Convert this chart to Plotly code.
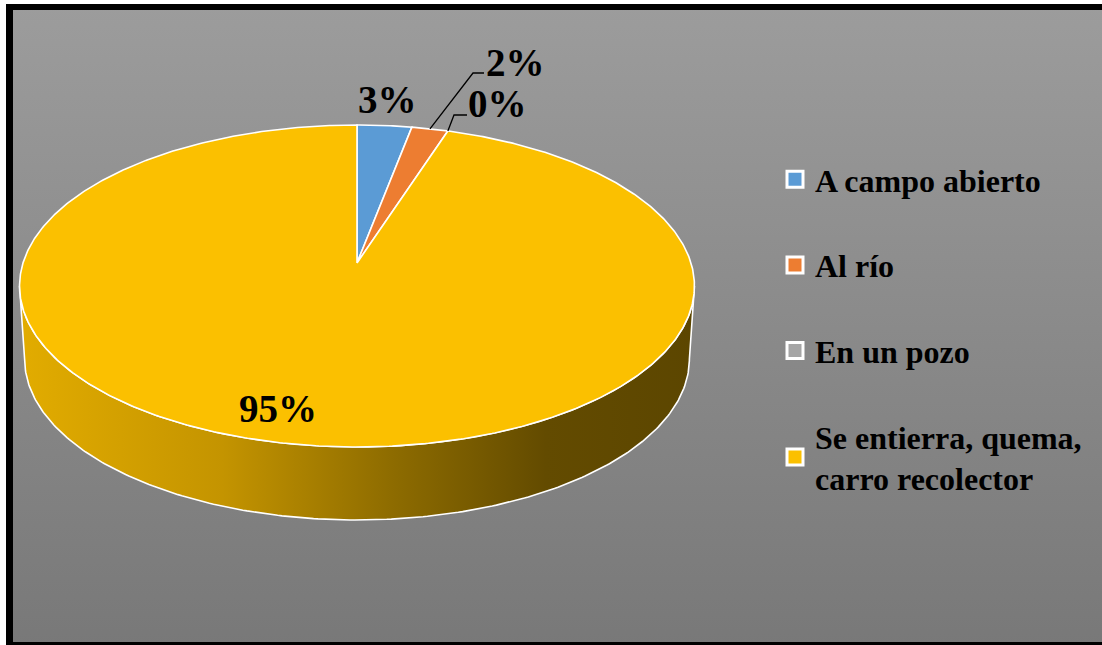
import numpy as np
import plotly.graph_objects as go

# ---- data -------------------------------------------------------------
categorias = ["A campo abierto", "Al río", "En un pozo",
              "Se entierra, quema,<br>carro recolector"]
porcentajes = [3, 2, 0, 95]
colores = ["#5B9BD5", "#ED7D31", "#A5A5A5", "#FBC000"]

# ---- canvas / pie geometry (pixel space) ------------------------------
W, H = 1102, 645
CX, CY = 357, 263          # apex of the pie on the top face
R, RY = 334, 157.7         # horizontal / vertical radius
K = 0.1428                 # perspective foreshortening of the far side
DEPTH = 73                 # thickness of the pie
BOT_SCALE = 0.985
FONT = "Liberation Serif"


def top_pt(th, frac=1.0):
    u, v = np.sin(th), np.cos(th)
    s = 1.0 / (1.0 + K * v)
    return CX + frac * R * u * s, CY - frac * RY * v * s


def bot_pt(th):
    x, y = top_pt(th)
    return CX + (x - CX) * BOT_SCALE, y + DEPTH


fig = go.Figure()

# background with vertical grey gradient (lighter at the top)
fig.add_trace(go.Scatter(
    x=[10, W + 5, W + 5, 10, 10], y=[7, 7, H + 5, H + 5, 7],
    mode="lines", fill="toself", line=dict(width=0),
    fillgradient=dict(type="vertical",
                      colorscale=[[0, "#787878"], [1, "#9c9c9c"]]),
    hoverinfo="skip", showlegend=False))

# visible side wall (front half of the cylinder)
th_r = np.arccos(-K)
th_l = 2 * np.pi - th_r
arc = np.linspace(th_r, th_l, 240)
xt, yt = top_pt(arc)
xb, yb = bot_pt(arc[::-1])
fig.add_trace(go.Scatter(
    x=np.concatenate([xt, xb, xt[:1]]), y=np.concatenate([yt, yb, yt[:1]]),
    mode="lines", fill="toself", line=dict(color="white", width=1.6),
    fillgradient=dict(type="horizontal",
                      colorscale=[[0, "#E2AC00"], [0.3, "#C49400"],
                                  [0.55, "#8E6C00"], [0.78, "#634B00"],
                                  [1, "#5C4600"]]),
    hoverinfo="skip", showlegend=False))

# top face slices, clockwise from 12 o'clock
total = float(sum(porcentajes))
bounds = np.concatenate([[0], np.cumsum(porcentajes)]) / total * 2 * np.pi
for val, col, a0, a1 in zip(porcentajes, colores, bounds[:-1], bounds[1:]):
    if val <= 0:
        continue
    th = np.linspace(a0, a1, max(int(val * 8), 12))
    xs, ys = top_pt(th)
    fig.add_trace(go.Scatter(
        x=np.concatenate([[CX], xs, [CX]]), y=np.concatenate([[CY], ys, [CY]]),
        mode="lines", fill="toself", fillcolor=col,
        line=dict(color="white", width=1.6),
        hoverinfo="skip", showlegend=False))

# legend entries
for i, (name, col) in enumerate(zip(categorias, colores)):
    fig.add_trace(go.Scatter(
        x=[None], y=[None], mode="markers", name=name,
        marker=dict(symbol="square", size=16, color=col,
                    line=dict(color="white", width=3)),
        legendgroup=f"g{i}", showlegend=True))

# data labels: label centre and optional leader elbow
label_pos = [(387, 99, None), (515, 62, (473, 73, 484)),
             (497, 103, (454, 115, 467)), (278, 408, None)]
annotations = []
for val, a0, a1, (lx, ly, elbow) in zip(porcentajes, bounds[:-1], bounds[1:],
                                        label_pos):
    annotations.append(dict(
        x=lx, y=ly, xref="x", yref="y", text=f"<b>{val}%</b>",
        showarrow=False, xanchor="center", yanchor="middle",
        font=dict(family=FONT, size=39, color="black")))
    if elbow is not None:
        px, py = top_pt((a0 + a1) / 2)
        ex, ey, hx = elbow
        fig.add_trace(go.Scatter(
            x=[float(px), ex, hx], y=[float(py), ey, ey], mode="lines",
            line=dict(color="black", width=1.3),
            hoverinfo="skip", showlegend=False))

# black frame: left, top and bottom edges
frame = dict(color="black")
shapes = [
    dict(type="line", xref="paper", yref="paper", x0=9.5 / W, x1=9.5 / W,
         y0=1 - 4 / H, y1=0, line=dict(width=7, **frame), layer="above"),
    dict(type="line", xref="paper", yref="paper", x0=6 / W, x1=1,
         y0=1 - 7 / H, y1=1 - 7 / H, line=dict(width=6, **frame),
         layer="above"),
    dict(type="line", xref="paper", yref="paper", x0=6 / W, x1=1,
         y0=1.5 / H, y1=1.5 / H, line=dict(width=3, **frame),
         layer="above"),
]

fig.update_layout(
    width=W, height=H, margin=dict(l=0, r=0, t=0, b=0),
    paper_bgcolor="white", plot_bgcolor="white",
    xaxis=dict(range=[0, W], visible=False, fixedrange=True),
    yaxis=dict(range=[H, 0], visible=False, fixedrange=True),
    annotations=annotations, shapes=shapes,
    showlegend=True,
    legend=dict(x=775 / W, xanchor="left", y=1 - 152 / H, yanchor="top",
                bgcolor="rgba(0,0,0,0)", borderwidth=0,
                tracegroupgap=41,
                font=dict(family=FONT, size=32, color="black", weight="bold")),
)

fig.write_html("out.html")
